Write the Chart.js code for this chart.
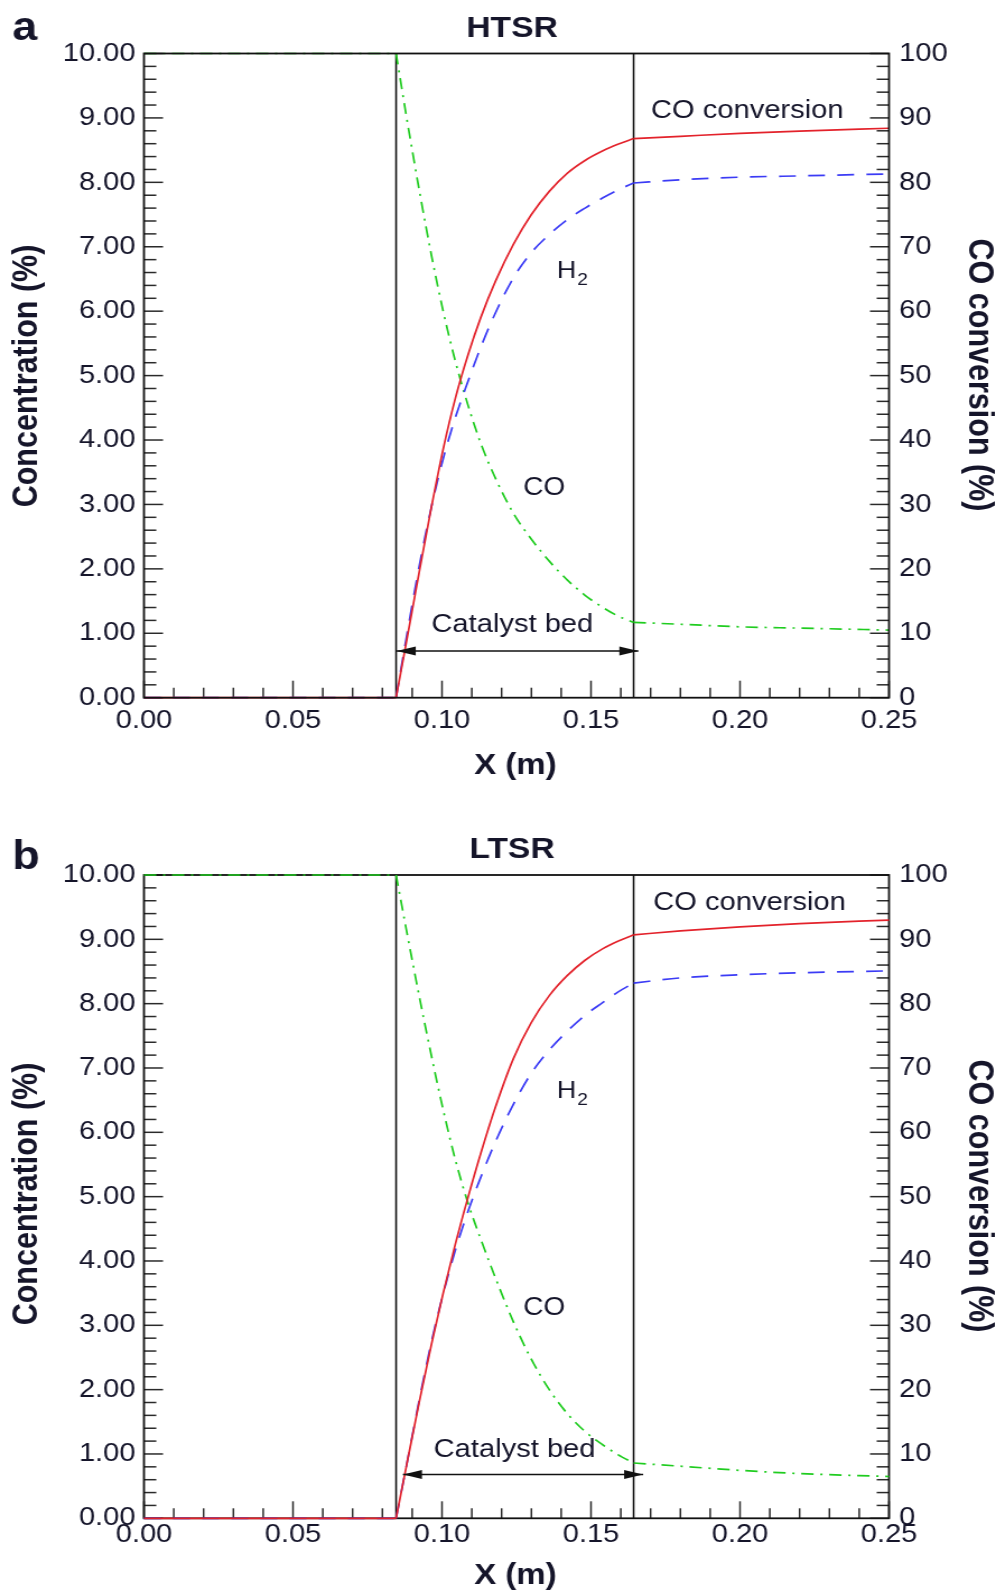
<!DOCTYPE html>
<html>
<head>
<meta charset="utf-8">
<script src="https://cdn.jsdelivr.net/npm/chart.js@4.4.0/dist/chart.umd.min.js"></script>
<style>
  body { margin: 0; background: #fff; }
  canvas { display: block; }
</style>
</head>
<body>
<!-- canvases are drawn 889 wide and stretched to 996 like the original figure -->
<canvas id="htsr" width="889" height="790" style="width:996px;height:790px"></canvas>
<canvas id="ltsr" width="889" height="803" style="width:996px;height:803px"></canvas>
<script>
// Axial position (m)
const xPos = [0, 0.0846, 0.088, 0.0926, 0.0965, 0.1004, 0.1045, 0.1088, 0.113, 0.118, 0.124,
  0.13, 0.136, 0.142, 0.148, 0.154, 0.159, 0.1643, 0.18, 0.2, 0.22, 0.25];

// HTSR: CO (%), H2 (%), CO conversion (%)
const coHT = [10, 10, 9.04, 7.82, 6.86, 6.0, 5.22, 4.53, 3.95, 3.4, 2.86,
  2.46, 2.12, 1.83, 1.59, 1.4, 1.27, 1.17, 1.14, 1.1, 1.08, 1.05];
const h2HT = [0, 0, 0.92, 2.1, 2.97, 3.71, 4.35, 4.92, 5.44, 5.98, 6.52,
  6.91, 7.19, 7.42, 7.6, 7.76, 7.88, 7.99, 8.04, 8.08, 8.1, 8.13];
const convHT = [0, 0, 8.5, 20.1, 29.7, 38.6, 46.5, 53.3, 59.0, 64.7, 70.4,
  75.0, 78.6, 81.4, 83.4, 84.9, 85.9, 86.8, 87.15, 87.6, 87.95, 88.4];

// LTSR
const coLT = [10, 10, 9.16, 8.06, 7.18, 6.35, 5.57, 4.89, 4.34, 3.73, 3.05,
  2.47, 2.0, 1.63, 1.35, 1.14, 0.99, 0.86, 0.81, 0.745, 0.695, 0.65];
const h2LT = [0, 0, 0.8, 1.89, 2.75, 3.49, 4.17, 4.78, 5.3, 5.86, 6.44,
  6.92, 7.28, 7.57, 7.82, 8.02, 8.18, 8.32, 8.4, 8.45, 8.48, 8.51];
const convLT = [0, 0, 8.0, 18.6, 27.1, 35.0, 42.65, 50.0, 56.7, 64.0, 71.5,
  77.1, 81.25, 84.35, 86.75, 88.55, 89.7, 90.7, 91.3, 91.95, 92.45, 93.0];

// Catalyst bed limits and the "Catalyst bed" arrow
const bedStart = 0.0846;
const bedEnd = 0.1643;
const arrowHT = [0.0848, 0.1659];
const arrowLT = [0.0869, 0.1675];
const arrowYHT = 0.725;
const arrowYLT = 0.68;

const FONT = "'Liberation Sans', Arial, sans-serif";
const INK = "#15152a";

// split a series at the bed walls so the corners stay sharp
const splitSeries = (xs, ys) => {
  const pts = xs.map((x, i) => ({ x, y: ys[i] }));
  return [
    pts.filter((p) => p.x <= bedStart),
    pts.filter((p) => p.x >= bedStart && p.x <= bedEnd),
    pts.filter((p) => p.x >= bedEnd),
  ];
};

// Inward ticks, frame, labels and the arrow
const decor = {
  id: "decor",
  beforeDatasetsDraw(chart, args, o) {
    const { ctx, chartArea: a, scales } = chart;
    const line = (x1, y1, x2, y2) => {
      ctx.beginPath();
      ctx.moveTo(x1, y1);
      ctx.lineTo(x2, y2);
      ctx.stroke();
    };
    ctx.save();
    ctx.strokeStyle = "#2a2a2a";
    ctx.lineWidth = 1.5;
    for (let i = 0; i <= 25; i++) {
      const px = scales.x.getPixelForValue(i / 100);
      line(px, a.bottom, px, a.bottom - (i % 5 === 0 ? 17 : 10));
    }
    for (let i = 0; i <= 50; i++) {
      const py = scales.y.getPixelForValue(i / 5);
      line(a.left, py, a.left + (i % 5 === 0 ? 17 : 11), py);
      const py2 = scales.y2.getPixelForValue(i * 2);
      line(a.right, py2, a.right - (i % 5 === 0 ? 17 : 11), py2);
    }
    if (!o.frameOnTop) drawFrame(chart);
    ctx.restore();
  },
  afterDatasetsDraw(chart, args, o) {
    if (o.frameOnTop) drawFrame(chart);
  },
  afterDraw(chart, args, o) {
    const { ctx, scales } = chart;
    ctx.save();
    ctx.fillStyle = INK;
    ctx.textBaseline = "alphabetic";

    // panel letter and title
    ctx.font = `bold 40px ${FONT}`;
    ctx.textAlign = "left";
    ctx.fillText(o.letter, 11, o.letterY);
    ctx.font = `bold 30px ${FONT}`;
    ctx.textAlign = "center";
    ctx.fillText(o.title, 457, o.titleY);

    // x axis title
    ctx.font = `bold 29.5px ${FONT}`;
    ctx.fillText("X (m)", 460, o.xTitleY);

    // y axis titles
    ctx.font = `bold 30.5px ${FONT}`;
    ctx.textBaseline = "middle";
    ctx.save();
    ctx.translate(24.5, o.yTitleY);
    ctx.rotate(-Math.PI / 2);
    ctx.fillText("Concentration (%)", 0, 0);
    ctx.restore();
    ctx.save();
    ctx.translate(873, o.y2TitleY);
    ctx.rotate(Math.PI / 2);
    ctx.fillText("CO conversion (%)", 0, 0);
    ctx.restore();

    // in-plot labels
    ctx.textBaseline = "alphabetic";
    ctx.textAlign = "left";
    ctx.font = `26px ${FONT}`;
    ctx.fillText("CO conversion", o.convPos[0], o.convPos[1]);
    ctx.font = `25px ${FONT}`;
    ctx.fillText("CO", o.coPos[0], o.coPos[1]);
    ctx.font = `24px ${FONT}`;
    ctx.fillText("H", o.h2Pos[0], o.h2Pos[1]);
    const hw = ctx.measureText("H").width;
    ctx.font = `17px ${FONT}`;
    ctx.fillText("2", o.h2Pos[0] + hw + 1, o.h2Pos[1] + 7);
    ctx.font = `26px ${FONT}`;
    ctx.fillText("Catalyst bed", o.bedPos[0], o.bedPos[1]);

    // double arrow across the bed
    const ay = scales.y.getPixelForValue(o.arrowY);
    const x1 = scales.x.getPixelForValue(o.arrow[0]);
    const x2 = scales.x.getPixelForValue(o.arrow[1]);
    ctx.strokeStyle = "#111";
    ctx.lineWidth = 1.5;
    ctx.beginPath();
    ctx.moveTo(x1, ay);
    ctx.lineTo(x2, ay);
    ctx.stroke();
    ctx.fillStyle = "#111";
    [[x1, 1], [x2, -1]].forEach(([tx, dir]) => {
      ctx.beginPath();
      ctx.moveTo(tx, ay);
      ctx.lineTo(tx + dir * 17, ay - 4.5);
      ctx.lineTo(tx + dir * 17, ay + 4.5);
      ctx.closePath();
      ctx.fill();
    });
    ctx.restore();
  },
};

function drawFrame(chart) {
  const { ctx, chartArea: a } = chart;
  ctx.save();
  ctx.strokeStyle = "#111";
  ctx.lineWidth = 1.8;
  ctx.strokeRect(a.left, a.top, a.right - a.left, a.bottom - a.top);
  ctx.restore();
}

function makePanel(id, co, h2, conv, padTop, padBottom, xPad, decorOpts) {
  const tickFont = { family: FONT, size: 26 };
  const bedLine = (xv) => ({
    data: [{ x: xv, y: 0 }, { x: xv, y: 10 }],
    yAxisID: "y",
    borderColor: "#111",
    borderWidth: 1.6,
    pointRadius: 0,
  });
  const curve = (pts, axis, color, dash) => ({
    data: pts,
    yAxisID: axis,
    borderColor: color,
    borderWidth: 1.7,
    borderDash: dash,
    cubicInterpolationMode: "monotone",
    pointRadius: 0,
    clip: false,
  });

  const datasets = [];
  splitSeries(xPos, conv).forEach((p) => datasets.push(curve(p, "y2", "#e3222b", [])));
  splitSeries(xPos, h2).forEach((p) => datasets.push(curve(p, "y", "#3b3bf5", [15, 11])));
  splitSeries(xPos, co).forEach((p) => datasets.push(curve(p, "y", "#1fcc1f", [11, 6, 2, 6])));
  datasets.push(bedLine(bedStart), bedLine(bedEnd));

  return new Chart(document.getElementById(id), {
    type: "line",
    data: { datasets },
    options: {
      responsive: false,
      animation: false,
      events: [],
      layout: { padding: { top: padTop, bottom: padBottom, left: 0, right: 0 } },
      plugins: {
        legend: { display: false },
        tooltip: { enabled: false },
        decor: decorOpts,
      },
      scales: {
        x: {
          type: "linear",
          min: 0,
          max: 0.25,
          grid: { display: false, drawTicks: false },
          border: { display: false },
          ticks: {
            stepSize: 0.05,
            autoSkip: false,
            maxRotation: 0,
            padding: xPad,
            color: INK,
            font: tickFont,
            callback: (v) => v.toFixed(2),
          },
          afterFit: (s) => { s.height = 60; },
        },
        y: {
          position: "left",
          min: 0,
          max: 10,
          grid: { display: false, drawTicks: false },
          border: { display: false },
          ticks: {
            stepSize: 1,
            autoSkip: false,
            padding: 7.5,
            color: INK,
            font: tickFont,
            callback: (v) => v.toFixed(2),
          },
          afterFit: (s) => { s.width = 128.5; },
        },
        y2: {
          position: "right",
          min: 0,
          max: 100,
          grid: { display: false, drawTicks: false },
          border: { display: false },
          ticks: {
            stepSize: 10,
            autoSkip: false,
            padding: 9,
            color: INK,
            font: tickFont,
          },
          afterFit: (s) => { s.width = 95.5; },
        },
      },
    },
    plugins: [decor],
  });
}

makePanel("htsr", coHT, h2HT, convHT, 53.5, 32.3, 8, {
  letter: "a", letterY: 40, title: "HTSR", titleY: 37,
  xTitleY: 774, yTitleY: 376, y2TitleY: 375, frameOnTop: true,
  convPos: [581, 118], h2Pos: [497, 278], coPos: [467, 495], bedPos: [385, 632],
  arrow: arrowHT, arrowY: arrowYHT,
});

makePanel("ltsr", coLT, h2LT, convLT, 85, 14.7, 1, {
  letter: "b", letterY: 79, title: "LTSR", titleY: 68,
  xTitleY: 794, yTitleY: 404, y2TitleY: 406, frameOnTop: false,
  convPos: [583, 120], h2Pos: [497, 308], coPos: [467, 525], bedPos: [387, 666.5],
  arrow: arrowLT, arrowY: arrowYLT,
});
</script>
</body>
</html>
